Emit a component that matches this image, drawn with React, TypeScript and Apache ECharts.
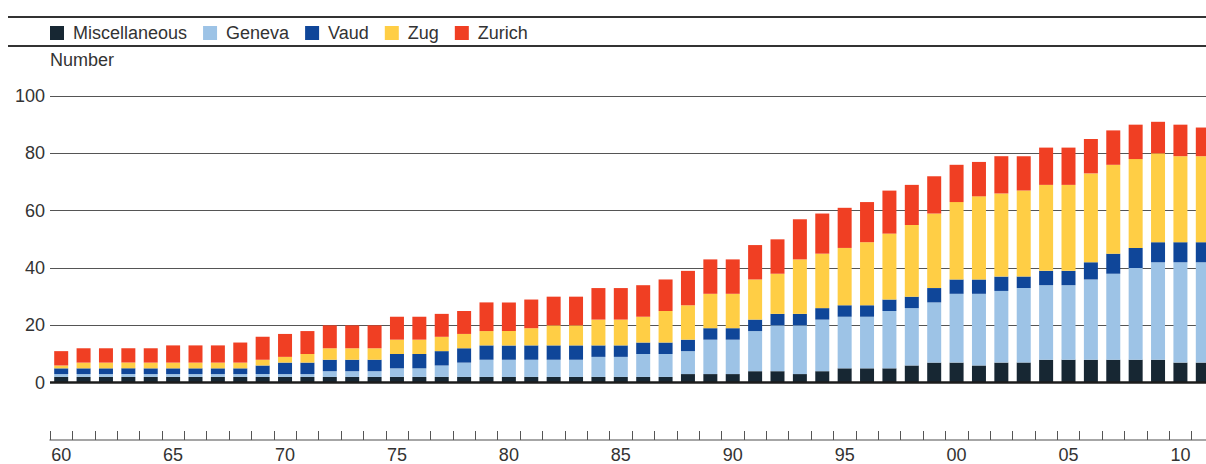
import React, { useEffect, useRef } from "react";
import * as echarts from "echarts";

const years = ["1960","1961","1962","1963","1964","1965","1966","1967","1968","1969","1970","1971","1972","1973","1974","1975","1976","1977","1978","1979","1980","1981","1982","1983","1984","1985","1986","1987","1988","1989","1990","1991","1992","1993","1994","1995","1996","1997","1998","1999","2000","2001","2002","2003","2004","2005","2006","2007","2008","2009","2010","2011"];

const miscellaneous = [2,2,2,2,2,2,2,2,2,2,2,2,2,2,2,2,2,2,2,2,2,2,2,2,2,2,2,2,3,3,3,4,4,3,4,5,5,5,6,7,7,6,7,7,8,8,8,8,8,8,7,7];
const geneva = [1,1,1,1,1,1,1,1,1,1,1,1,2,2,2,3,3,4,5,6,6,6,6,6,7,7,8,8,8,12,12,14,16,17,18,18,18,20,20,21,24,25,25,26,26,26,28,30,32,34,35,35];
const vaud = [2,2,2,2,2,2,2,2,2,3,4,4,4,4,4,5,5,5,5,5,5,5,5,5,4,4,4,4,4,4,4,4,4,4,4,4,4,4,4,5,5,5,5,4,5,5,6,7,7,7,7,7];
const zug = [1,2,2,2,2,2,2,2,2,2,2,3,4,4,4,5,5,5,5,5,5,6,7,7,9,9,9,11,12,12,12,14,14,19,19,20,22,23,25,26,27,29,29,30,30,30,31,31,31,31,30,30];
const zurich = [5,5,5,5,5,6,6,6,7,8,8,8,8,8,8,8,8,8,8,10,10,10,10,10,11,11,11,11,12,12,12,12,12,14,14,14,14,15,14,13,13,12,13,12,13,13,12,12,12,11,11,10];

const seriesNames = ["Miscellaneous", "Geneva", "Vaud", "Zug", "Zurich"];
const seriesColors = ["#172733", "#9DC3E6", "#0F4699", "#FFCE45", "#F03F23"];
const yTicks = [0, 20, 40, 60, 80, 100];

const FONT = "'Liberation Sans', Arial, sans-serif";

export default function App() {
  const ref = useRef<HTMLDivElement>(null);
  useEffect(() => {
    if (!ref.current) return;
    const chart = echarts.init(ref.current, undefined, { renderer: "svg" });
    const data = [miscellaneous, geneva, vaud, zug, zurich];
    chart.setOption({
      animation: false,
      textStyle: { fontFamily: FONT },
      legend: {
        left: 45,
        top: 19,
        itemWidth: 14,
        itemHeight: 14,
        itemGap: 16,
        icon: "rect",
        textStyle: { fontSize: 18, color: "#333", fontFamily: FONT, padding: [0, 0, 0, 4] },
        data: seriesNames,
      },
      graphic: [
        { type: "line", shape: { x1: 8, y1: 17, x2: 1240, y2: 17 }, style: { stroke: "#333", lineWidth: 2 } },
        { type: "line", shape: { x1: 8, y1: 46, x2: 1240, y2: 46 }, style: { stroke: "#333", lineWidth: 2 } },
        { type: "text", left: 50, top: 51, style: { text: "Number", fontSize: 18, fill: "#333", fontFamily: FONT } },
      ],
      grid: { left: 50, top: 96, width: 1164, height: 344, containLabel: false },
      xAxis: {
        type: "category",
        data: years,
        boundaryGap: true,
        axisLine: { show: true, onZero: false, lineStyle: { color: "#888", width: 1.5 } },
        axisTick: { show: true, inside: true, length: 9, interval: 0, alignWithLabel: false, lineStyle: { color: "#555" } },
        axisLabel: {
          interval: 4,
          color: "#333",
          fontSize: 18,
          margin: 6,
          fontFamily: FONT,
          formatter: (v: string) => v.slice(2),
        },
      },
      yAxis: {
        type: "value",
        min: -20,
        max: 100,
        interval: 20,
        axisLine: { show: false },
        axisTick: { show: false },
        axisLabel: {
          color: "#333",
          fontSize: 18,
          margin: 5,
          fontFamily: FONT,
          formatter: (v: number) => (yTicks.indexOf(v) >= 0 ? String(v) : ""),
        },
        splitLine: { show: true, lineStyle: { color: ["transparent", "transparent", "#555", "#555", "#555", "#555", "#555"], width: 1 } },
      },
      series: seriesNames.map((name, i) => ({
        name,
        type: "bar",
        stack: "total",
        barWidth: 14,
        itemStyle: { color: seriesColors[i] },
        emphasis: { disabled: true },
        data: data[i],
        markLine: i === 0 ? {
          silent: true,
          symbol: "none",
          label: { show: false },
          lineStyle: { color: "#1c1c1c", width: 2.5, type: "solid" },
          data: [{ yAxis: 0 }],
        } : undefined,
      })),
    });
    return () => chart.dispose();
  }, []);
  return (
    <div style={{ position: "fixed", left: 0, top: 0, width: 1206, height: 464, overflow: "hidden", background: "#fff" }}>
      <div ref={ref} style={{ width: 1240, height: 464 }} />
    </div>
  );
}
